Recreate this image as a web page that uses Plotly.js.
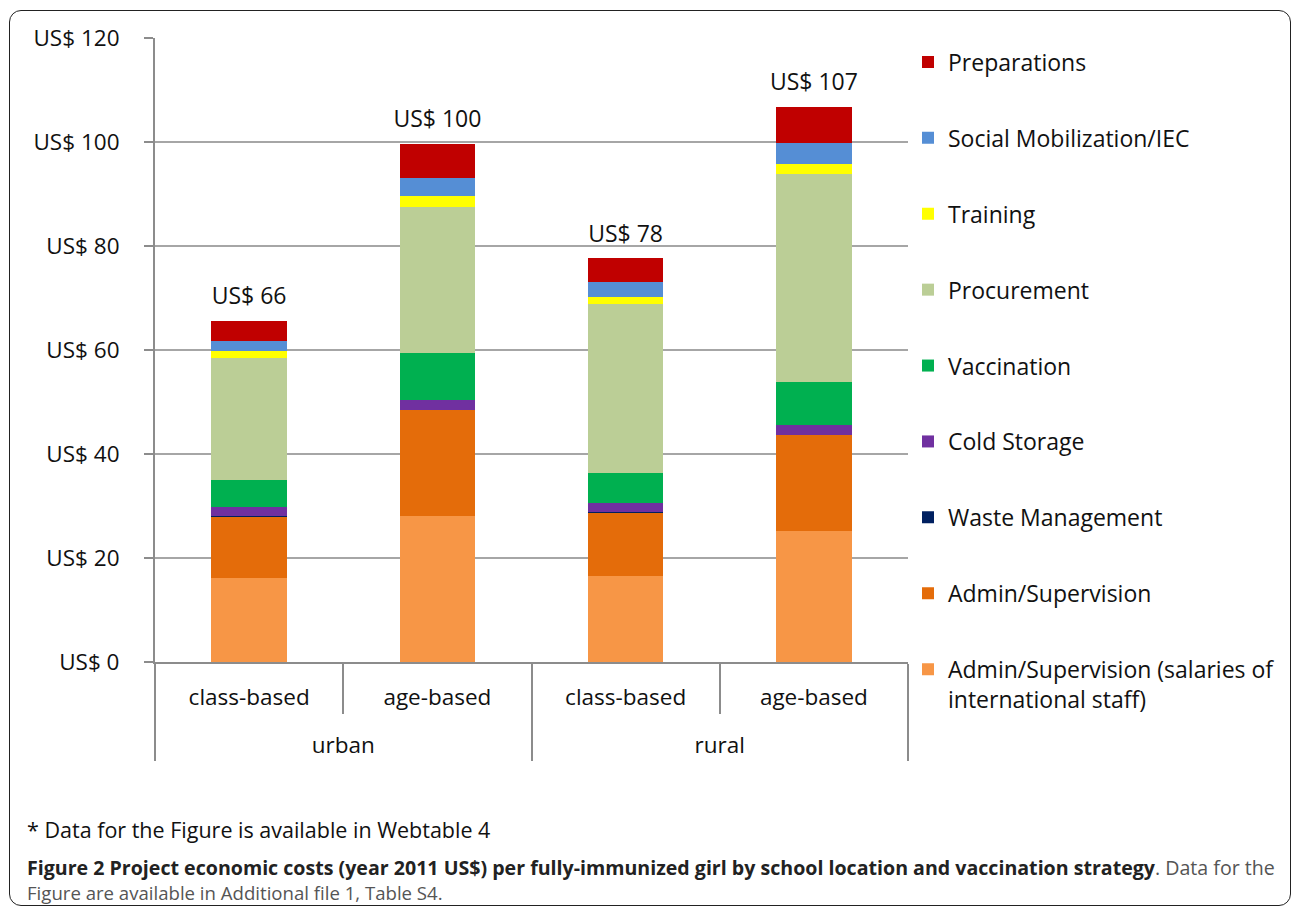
<!DOCTYPE html>
<html>
<head>
<meta charset="utf-8">
<script src="https://cdn.plot.ly/plotly-3.0.1.min.js"></script>
<style>
  html, body { margin: 0; padding: 0; background: #fff; }
  #wrap { position: relative; width: 1293px; height: 915px; }
  #chart { position: absolute; left: 0; top: 0; width: 1293px; height: 915px; }
  #frame { position: absolute; left: 9px; top: 10px; width: 1280px; height: 894px;
           border: 1.5px solid #222; border-radius: 12px; pointer-events: none; }
</style>
</head>
<body>
<div id="wrap">
  <div id="chart"></div>
  <div id="frame"></div>
</div>
<script>
// Categories (two-level x axis)
const locations  = ["urban", "urban", "rural", "rural"];
const strategies = ["class-based", "age-based", "class-based", "age-based"];

// Cost components, US$ per fully-immunized girl (bottom to top of the stack)
const adminIntlStaff   = [16.2, 28.0, 16.6, 25.1];
const adminSupervision = [11.7, 20.4, 12.1, 18.5];
const wasteManagement  = [0.1, 0.1, 0.1, 0.1];
const coldStorage      = [1.8, 1.9, 1.8, 1.8];
const vaccination      = [5.2, 9.0, 5.75, 8.3];
const procurement      = [23.4, 28.1, 32.55, 40.0];
const training         = [1.4, 2.1, 1.3, 1.9];
const socialMob        = [1.9, 3.5, 2.8, 4.2];
const preparations     = [3.9, 6.6, 4.6, 6.8];

// Y ticks
const yTicks = [0, 20, 40, 60, 80, 100, 120];
const yTickLabels = ["US$ 0", "US$ 20", "US$ 40", "US$ 60", "US$ 80", "US$ 100", "US$ 120"];

const seriesNames = [
  "Admin/Supervision (salaries of<br>international staff)",
  "Admin/Supervision",
  "Waste Management",
  "Cold Storage",
  "Vaccination",
  "Procurement",
  "Training",
  "Social Mobilization/IEC",
  "Preparations"
];
const seriesValues = [adminIntlStaff, adminSupervision, wasteManagement, coldStorage,
                      vaccination, procurement, training, socialMob, preparations];
const seriesColors = ["#F79646", "#E46C0A", "#002060", "#7030A0", "#00B050",
                      "#BBCE96", "#FFFF00", "#558ED5", "#C00000"];

// outer-level labels sit one line lower than the inner ones (as in the original)
const outerLabels = locations.map(l => "<br>" + l);
const xCats = [outerLabels, strategies];

const traces = seriesNames.map((name, i) => ({
  type: "bar",
  name: name,
  x: xCats,
  y: seriesValues[i],
  marker: { color: seriesColors[i], line: { width: 0 } },
  legendgroup: "g" + i,
  legendrank: seriesNames.length - i,
  hoverinfo: "name+y"
}));

const totals = locations.map((_, j) => seriesValues.reduce((s, arr) => s + arr[j], 0));
const totalLabels = totals.map(t => "US$ " + Math.round(t));

traces.push({
  type: "scatter",
  mode: "markers+text",
  x: xCats,
  y: totals,
  text: totalLabels,
  textposition: "top center",
  textfont: { family: "Open Sans, sans-serif", size: 23, color: "#111" },
  marker: { size: 16, color: "rgba(0,0,0,0)" },
  showlegend: false,
  hoverinfo: "skip"
});

const axisGray = "#8c8c8c";
const tickFont = { family: "Open Sans, sans-serif", size: 22.5, color: "#111" };

const layout = {
  width: 1293,
  height: 915,
  margin: { l: 155, r: 385, t: 38, b: 253 },
  paper_bgcolor: "rgba(0,0,0,0)",
  plot_bgcolor: "rgba(0,0,0,0)",
  font: tickFont,
  barmode: "stack",
  bargap: 0.6,
  showlegend: true,
  legend: {
    x: 1.0, xanchor: "left",
    y: 0.996, yanchor: "top",
    traceorder: "grouped",
    tracegroupgap: 43,
    valign: "top",
    maxheight: 900,
    font: { family: "Open Sans, sans-serif", size: 23, color: "#111" },
    bgcolor: "rgba(0,0,0,0)"
  },
  xaxis: {
    type: "multicategory",
    showline: true, linecolor: axisGray, linewidth: 2,
    ticks: "outside", ticklen: 50, tickwidth: 2, tickcolor: axisGray,
    showdividers: true, dividercolor: axisGray, dividerwidth: 2,
    ticklabelstandoff: 14,
    tickfont: tickFont,
    showgrid: false, zeroline: false, fixedrange: true
  },
  yaxis: {
    range: [0, 120],
    tickvals: yTicks,
    ticktext: yTickLabels,
    showline: true, linecolor: axisGray, linewidth: 2,
    ticks: "outside", ticklen: 9, tickwidth: 2, tickcolor: axisGray,
    ticklabelstandoff: 20,
    showgrid: true, gridcolor: "#a6a6a6", gridwidth: 2,
    zeroline: false,
    tickfont: tickFont,
    fixedrange: true
  },
  annotations: [
    {
      xref: "paper", yref: "paper", x: -0.172, y: -0.269,
      xanchor: "left", yanchor: "middle", showarrow: false, align: "left",
      text: "* Data for the Figure is available in Webtable 4",
      font: { family: "Open Sans, sans-serif", size: 21.5, color: "#111" }
    },
    {
      xref: "paper", yref: "paper", x: -0.172, y: -0.330,
      xanchor: "left", yanchor: "middle", showarrow: false, align: "left",
      text: "<b>Figure 2 Project economic costs (year 2011 US$) per fully-immunized girl by school location and vaccination strategy</b><span style=\"color:#555\">. Data for the</span>",
      font: { family: "Open Sans, sans-serif", size: 19.6, color: "#222" }
    },
    {
      xref: "paper", yref: "paper", x: -0.172, y: -0.370,
      xanchor: "left", yanchor: "middle", showarrow: false, align: "left",
      text: "Figure are available in Additional file 1, Table S4.",
      font: { family: "Open Sans, sans-serif", size: 18.6, color: "#555" }
    }
  ]
};

Plotly.newPlot("chart", traces, layout, { displayModeBar: false, staticPlot: true });
</script>
</body>
</html>
